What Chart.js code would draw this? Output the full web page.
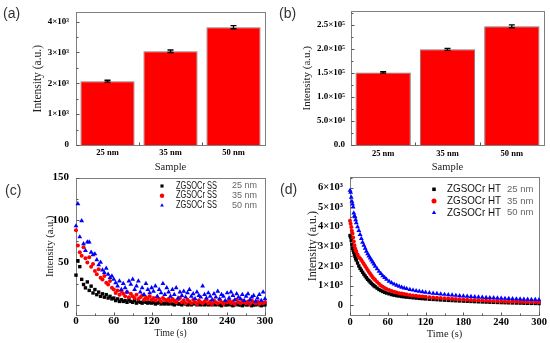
<!DOCTYPE html>
<html>
<head>
<meta charset="utf-8">
<script src="https://cdn.jsdelivr.net/npm/chart.js@4/dist/chart.umd.min.js"></script>
<style>
  html, body { margin: 0; padding: 0; background: #fff; }
  #wrap { position: relative; width: 550px; height: 343px; overflow: hidden; }
  canvas { position: absolute; }
  .tag { position: absolute; font-family: 'Liberation Sans', Arial, sans-serif; font-size: 14px; color: #333; line-height: 16px; }
</style>
</head>
<body>
<div id="wrap">
  <canvas id="chartA" width="275" height="172" style="left:0;top:0"></canvas>
  <canvas id="chartB" width="275" height="172" style="left:275px;top:0"></canvas>
  <canvas id="chartC" width="275" height="179" style="left:0;top:164px"></canvas>
  <canvas id="chartD" width="275" height="179" style="left:275px;top:164px"></canvas>
  <div class="tag" style="left:3px;top:5px">(a)</div>
  <div class="tag" style="left:279px;top:5px">(b)</div>
  <div class="tag" style="left:5px;top:182px">(c)</div>
  <div class="tag" style="left:280px;top:181px">(d)</div>
</div>
<script>
const SAMPLES = ['25 nm', '35 nm', '50 nm'];

// (a), (b) bar heights and error bars
const INTENSITY_A = [2070, 3040, 3820];
const ERR_A = [30, 40, 50];
const INTENSITY_B = [151000, 199000, 247000];
const ERR_B = [1500, 2000, 3000];

const TICKS_A = [0, 1000, 2000, 3000, 4000];
const TICKS_B = [0, 50000, 100000, 150000, 200000, 250000];
const TICKS_C = [0, 50, 100, 150];
const TICKS_D = [0, 1000, 2000, 3000, 4000, 5000, 6000];
const TICKS_TIME = [0, 60, 120, 180, 240, 300];

const NAMES_C = ['ZGSOCr SS', 'ZGSOCr SS', 'ZGSOCr SS'];
const NAMES_D = ['ZGSOCr HT', 'ZGSOCr HT', 'ZGSOCr HT'];

// (c) afterglow decay, SS samples
const TIME_C = [
  0, 3, 6, 9, 12, 15, 18, 21, 24, 27,
  30, 33, 36, 39, 42, 45, 48, 51, 54, 57,
  60, 63, 66, 69, 72, 75, 78, 81, 84, 87,
  90, 93, 96, 99, 102, 105, 108, 111, 114, 117,
  120, 123, 126, 129, 132, 135, 138, 141, 144, 147,
  150, 153, 156, 159, 162, 165, 168, 171, 174, 177,
  180, 183, 186, 189, 192, 195, 198, 201, 204, 207,
  210, 213, 216, 219, 222, 225, 228, 231, 234, 237,
  240, 243, 246, 249, 252, 255, 258, 261, 264, 267,
  270, 273, 276, 279, 282, 285, 288, 291, 294, 297,
  300];
const SS_25 = [
  35, 52, 45, 30, 24, 20, 27, 17, 22, 14,
  18, 12, 15, 10, 13, 9, 12, 8, 10, 7,
  8, 5, 7, 4, 6, 4, 5, 3, 6, 4,
  3, 5, 2, 4, 3, 2, 4, 3, 2, 3,
  2, 3, 1, 2, 3, 1, 2, 1, 2, 1,
  2, 1, 0, 2, 1, 1, 0, 2, 1, 0,
  1, 0, 1, 2, 0, 1, 0, 1, 0, 1,
  0, 1, 0, 1, 0, 1, 0, -1, 1, 0,
  0, 1, 0, -1, 0, 1, 0, 0, -1, 1,
  0, 0, 1, -1, 0, 0, 1, 0, -1, 0,
  0];
const SS_35 = [
  88, 70, 62, 58, 68, 55, 50, 56, 45, 48,
  40, 36, 42, 32, 30, 34, 26, 24, 28, 20,
  18, 14, 17, 12, 16, 13, 10, 15, 9, 13,
  10, 8, 12, 7, 9, 11, 6, 9, 7, 10,
  6, 8, 5, 9, 7, 4, 8, 6, 5, 7,
  4, 7, 5, 3, 6, 8, 3, 5, 2, 6,
  4, 2, 6, 3, 1, 5, 3, 2, 4, 6,
  2, 4, 1, 5, 3, 2, 6, 3, 1, 4,
  3, 5, 2, 4, 1, 6, 3, 2, 5, 3,
  2, 4, 1, 5, 3, 2, 4, 1, 3, 2,
  3];
const SS_50 = [
  93, 119, 80, 99, 72, 64, 74, 74, 62, 59,
  60, 53, 47, 50, 41, 38, 43, 36, 32, 34,
  30, 26, 22, 28, 18, 25, 20, 15, 28, 24,
  30, 18, 22, 28, 15, 20, 12, 25, 18, 14,
  20, 16, 22, 10, 18, 14, 25, 12, 20, 15,
  10, 18, 12, 20, 8, 15, 11, 16, 9, 14,
  18, 10, 13, 7, 15, 11, 9, 22, 12, 8,
  14, 10, 6, 13, 9, 16, 7, 12, 10, 5,
  14, 8, 15, 11, 6, 13, 9, 7, 12, 5,
  10, 13, 6, 9, 11, 4, 8, 12, 5, 15,
  7];

// (d) afterglow decay, HT samples
const TIME_D = [
  0, 1, 2, 3, 4, 5, 6, 7, 8, 9,
  10, 12, 14, 16, 18, 20, 22, 24, 26, 28,
  30, 32, 34, 36, 38, 40, 43, 46, 49, 52,
  55, 58, 62, 66, 70, 74, 78, 82, 86, 90,
  95, 100, 105, 110, 115, 120, 126, 132, 138, 144,
  150, 156, 162, 168, 174, 180, 186, 192, 198, 204,
  210, 216, 222, 228, 234, 240, 246, 252, 258, 264,
  270, 276, 282, 288, 294, 300];
const HT_25 = [
  3550, 3470, 3300, 3100, 2900, 2800, 2700, 2580, 2480, 2380,
  2300, 2150, 2000, 1880, 1780, 1680, 1580, 1490, 1400, 1320,
  1250, 1180, 1110, 1050, 990, 940, 870, 800, 750, 700,
  660, 620, 580, 540, 510, 485, 465, 445, 428, 412,
  395, 378, 362, 348, 334, 320, 305, 292, 280, 268,
  257, 246, 236, 226, 217, 208, 199, 190, 182, 174,
  166, 159, 152, 145, 139, 133, 127, 121, 116, 111,
  106, 101, 96, 92, 88, 84];
const HT_35 = [
  4300, 4150, 3980, 3800, 3660, 3450, 3250, 3050, 2900, 2800,
  2720, 2580, 2460, 2380, 2300, 2200, 2100, 2000, 1900, 1800,
  1690, 1600, 1510, 1430, 1350, 1280, 1180, 1090, 1010, 940,
  880, 830, 770, 720, 680, 645, 615, 590, 565, 545,
  520, 498, 478, 460, 443, 427, 410, 393, 378, 363,
  349, 336, 323, 311, 300, 289, 279, 269, 260, 251,
  243, 235, 227, 220, 213, 206, 200, 194, 188, 182,
  177, 172, 167, 162, 157, 152];
const HT_50 = [
  5850, 5750, 5500, 5300, 5150, 5000, 4700, 4550, 4500, 4350,
  4200, 4000, 3800, 3600, 3400, 3200, 3050, 2900, 2750, 2620,
  2500, 2400, 2300, 2200, 2100, 1980, 1850, 1720, 1610, 1500,
  1410, 1320, 1220, 1140, 1070, 1010, 960, 915, 875, 840,
  800, 765, 735, 705, 680, 655, 630, 608, 588, 568,
  548, 530, 513, 497, 482, 467, 453, 440, 427, 415,
  403, 392, 381, 371, 361, 352, 343, 334, 326, 318,
  310, 303, 296, 289, 282, 276];

const SERIF = "'Liberation Serif', 'Times New Roman', serif";
const SANS = "'Liberation Sans', Arial, sans-serif";
const STYLES = [
  { color: '#000000', pointStyle: 'rect', radius: 2.4 },
  { color: '#ff0000', pointStyle: 'circle', radius: 2.0 },
  { color: '#0000ff', pointStyle: 'triangle', radius: 2.8 },
];

function font(size, weight) {
  return { family: SERIF, size, weight: weight || 'normal', lineHeight: 1.2 };
}

function drawMarker(ctx, style, x, y, r, color) {
  ctx.fillStyle = color;
  ctx.beginPath();
  if (style === 'rect') {
    const s = r * Math.SQRT1_2;
    ctx.rect(x - s, y - s, 2 * s, 2 * s);
  } else if (style === 'circle') {
    ctx.arc(x, y, r, 0, Math.PI * 2);
  } else {
    let a = 0;
    ctx.moveTo(x + Math.sin(a) * r, y - Math.cos(a) * r);
    a += Math.PI * 2 / 3;
    ctx.lineTo(x + Math.sin(a) * r, y - Math.cos(a) * r);
    a += Math.PI * 2 / 3;
    ctx.lineTo(x + Math.sin(a) * r, y - Math.cos(a) * r);
    ctx.closePath();
  }
  ctx.fill();
}

// gray box round the plot area + inward tick marks
const frame = {
  id: 'frame',
  beforeDatasetsDraw(chart) {
    const { ctx, chartArea: a, scales } = chart;
    const L = Math.round(a.left) + 0.5, R = Math.round(a.right) + 0.5;
    const T = Math.round(a.top) + 0.5, B = Math.round(a.bottom) + 0.5;
    ctx.save();
    ctx.strokeStyle = '#7f7f7f';
    ctx.lineWidth = 1;
    ctx.strokeRect(L, T, R - L, B - T);

    ctx.strokeStyle = '#555';
    ctx.beginPath();
    const y = scales.y;
    const yv = y.ticks.map(t => t.value);
    const ys = yv[1] - yv[0];
    yv.forEach(v => {
      const p = Math.round(y.getPixelForValue(v)) + 0.5;
      ctx.moveTo(L, p); ctx.lineTo(L + 3, p);
      if (v + ys / 2 < y.max) {
        const q = Math.round(y.getPixelForValue(v + ys / 2)) + 0.5;
        ctx.moveTo(L, q); ctx.lineTo(L + 2, q);
      }
    });
    const x = scales.x;
    if (x.type === 'category') {
      for (let i = 0; i < x.ticks.length - 1; i++) {
        const p = Math.round(x.getPixelForValue(i + 0.5)) + 0.5;
        ctx.moveTo(p, B); ctx.lineTo(p, B - 3);
      }
    } else {
      const xv = x.ticks.map(t => t.value);
      const xs = xv[1] - xv[0];
      xv.forEach(v => {
        const p = Math.round(x.getPixelForValue(v)) + 0.5;
        ctx.moveTo(p, B); ctx.lineTo(p, B - 3);
        if (v + xs / 2 < x.max) {
          const q = Math.round(x.getPixelForValue(v + xs / 2)) + 0.5;
          ctx.moveTo(q, B); ctx.lineTo(q, B - 2);
        }
      });
    }
    ctx.stroke();
    ctx.restore();
  }
};

const errorBars = {
  id: 'errorBars',
  afterDatasetsDraw(chart, args, opts) {
    const meta = chart.getDatasetMeta(0);
    const y = chart.scales.y;
    const vals = chart.data.datasets[0].data;
    const ctx = chart.ctx;
    ctx.save();
    ctx.strokeStyle = '#000';
    ctx.lineWidth = 1.3;
    ctx.beginPath();
    meta.data.forEach((bar, i) => {
      const top = y.getPixelForValue(vals[i] + opts.errors[i]);
      const bot = y.getPixelForValue(vals[i] - opts.errors[i]);
      ctx.moveTo(bar.x, top); ctx.lineTo(bar.x, bot);
      ctx.moveTo(bar.x - 3, top); ctx.lineTo(bar.x + 3, top);
      ctx.moveTo(bar.x - 3, bot); ctx.lineTo(bar.x + 3, bot);
    });
    ctx.stroke();
    ctx.restore();
  }
};

// legend: marker, black name, gray size
const markerLegend = {
  id: 'markerLegend',
  afterDraw(chart, args, o) {
    const ctx = chart.ctx;
    ctx.save();
    ctx.textBaseline = 'middle';
    ctx.textAlign = 'left';
    o.names.forEach((name, i) => {
      const yy = o.y + i * o.dy;
      drawMarker(ctx, STYLES[i].pointStyle, o.x, yy, o.r, STYLES[i].color);
      ctx.fillStyle = '#111';
      ctx.font = o.nameSize + 'px ' + SANS;
      ctx.fillText(name, o.x + o.textDx, yy, o.nameWidth);
      ctx.fillStyle = '#666';
      ctx.font = o.sizeSize + 'px ' + SANS;
      ctx.fillText(SAMPLES[i], o.x + o.sizeDx, yy);
    });
    ctx.restore();
  }
};

function barChart(id, values, errors, cfg) {
  return new Chart(document.getElementById(id), {
    type: 'bar',
    data: {
      labels: SAMPLES,
      datasets: [{
        data: values,
        backgroundColor: '#ff0000',
        borderColor: '#7a7a7a',
        borderWidth: 1,
        barPercentage: 0.86,
        categoryPercentage: 1,
      }],
    },
    options: {
      responsive: false,
      animation: false,
      events: [],
      layout: { padding: cfg.padding },
      plugins: {
        legend: { display: false },
        tooltip: { enabled: false },
        errorBars: { errors },
      },
      scales: {
        x: {
          grid: { display: false, drawTicks: false },
          border: { display: false },
          ticks: { color: '#000', font: font(8.5, 'bold'), padding: cfg.xPad },
          title: { display: true, text: 'Sample', color: '#222', font: { family: SERIF, size: 10.5, lineHeight: 1 }, padding: 0 },
          afterFit: s => { s.height = cfg.xHeight; },
        },
        y: {
          min: 0,
          max: cfg.max,
          bounds: 'data',
          grid: { display: false, drawTicks: false },
          border: { display: false },
          afterBuildTicks: s => { s.ticks = cfg.ticks.map(v => ({ value: v })); },
          ticks: { color: '#000', font: font(9, 'bold'), padding: cfg.yPad, callback: cfg.fmt },
          title: { display: true, text: 'Intensity (a.u.)', color: '#222', font: font(cfg.titleSize), padding: 0 },
          afterFit: s => { s.width = cfg.yWidth; },
        },
      },
    },
    plugins: [frame, errorBars],
  });
}

function decayChart(id, times, series, names, cfg) {
  return new Chart(document.getElementById(id), {
    type: 'scatter',
    data: {
      datasets: series.map((vals, i) => ({
        label: names[i] + ' ' + SAMPLES[i],
        data: times.map((t, k) => ({ x: t, y: vals[k] })),
        pointStyle: STYLES[i].pointStyle,
        pointRadius: STYLES[i].radius,
        pointBackgroundColor: STYLES[i].color,
        pointBorderWidth: 0,
        order: 2 - i,
        clip: false,
      })),
    },
    options: {
      responsive: false,
      animation: false,
      events: [],
      layout: { padding: cfg.padding },
      plugins: {
        legend: { display: false },
        tooltip: { enabled: false },
        markerLegend: Object.assign({ names }, cfg.legend),
      },
      scales: {
        x: {
          type: 'linear',
          min: 0,
          max: 300,
          bounds: 'data',
          grid: { display: false, drawTicks: false },
          border: { display: false },
          afterBuildTicks: s => { s.ticks = TICKS_TIME.map(v => ({ value: v })); },
          ticks: { color: '#000', font: font(cfg.tickSize, 'bold'), padding: cfg.xPad },
          title: { display: true, text: 'Time (s)', color: '#222', font: { family: SERIF, size: cfg.xTitleSize, lineHeight: 1 }, padding: { top: 0, bottom: cfg.xTitlePad } },
          afterFit: s => { s.height = cfg.xHeight; },
        },
        y: {
          min: cfg.min,
          max: cfg.max,
          bounds: 'data',
          grid: { display: false, drawTicks: false },
          border: { display: false },
          afterBuildTicks: s => { s.ticks = cfg.ticks.map(v => ({ value: v })); },
          ticks: { color: '#000', font: font(cfg.tickSize, 'bold'), padding: cfg.yPad, callback: cfg.fmt },
          title: { display: true, text: 'Intensity (a.u.)', color: '#222', font: font(cfg.titleSize), padding: 0 },
          afterFit: s => { s.width = cfg.yWidth; },
        },
      },
    },
    plugins: [frame, markerLegend],
  });
}

barChart('chartA', INTENSITY_A, ERR_A, {
  padding: { left: 31, right: 10, top: 6, bottom: 0 },
  yWidth: 45, xHeight: 27, xPad: 3, yPad: 7, titleSize: 11.5,
  max: 4300, ticks: TICKS_A,
  fmt: v => v === 0 ? '0' : (v / 1000) + '×10³',
});

barChart('chartB', INTENSITY_B, ERR_B, {
  padding: { left: 26, right: 6, top: 7, bottom: 0 },
  yWidth: 50, xHeight: 27, xPad: 4, yPad: 6, titleSize: 11,
  max: 278000, ticks: TICKS_B,
  fmt: v => v === 0 ? '0.0' : v < 100000 ? (v / 10000).toFixed(1) + '×10⁴' : (v / 100000).toFixed(1) + '×10⁵',
});

decayChart('chartC', TIME_C, [SS_25, SS_35, SS_50], NAMES_C, {
  padding: { left: 44, right: 10, top: 10, bottom: 0 },
  yWidth: 32, xHeight: 28, xPad: 0, yPad: 7, titleSize: 10.5,
  tickSize: 11, xTitleSize: 9.5, xTitlePad: 5,
  min: -12, max: 150, ticks: TICKS_C,
  fmt: v => String(v),
  legend: { x: 162, y: 22, dy: 9.7, r: 2.2, textDx: 14, sizeDx: 70, nameSize: 10, nameWidth: 41, sizeSize: 9 },
});

decayChart('chartD', TIME_D, [HT_25, HT_35, HT_50], NAMES_D, {
  padding: { left: 31, right: 11, top: 13, bottom: 0 },
  yWidth: 44, xHeight: 28, xPad: 1, yPad: 7, titleSize: 12,
  tickSize: 10.5, xTitleSize: 10.5, xTitlePad: 4,
  min: -500, max: 6520, ticks: TICKS_D,
  fmt: v => v === 0 ? '0' : (v / 1000) + '×10³',
  legend: { x: 159, y: 25.3, dy: 11.7, r: 2.5, textDx: 13, sizeDx: 73, nameSize: 10.5, nameWidth: 54, sizeSize: 9.5 },
});
</script>
</body>
</html>
